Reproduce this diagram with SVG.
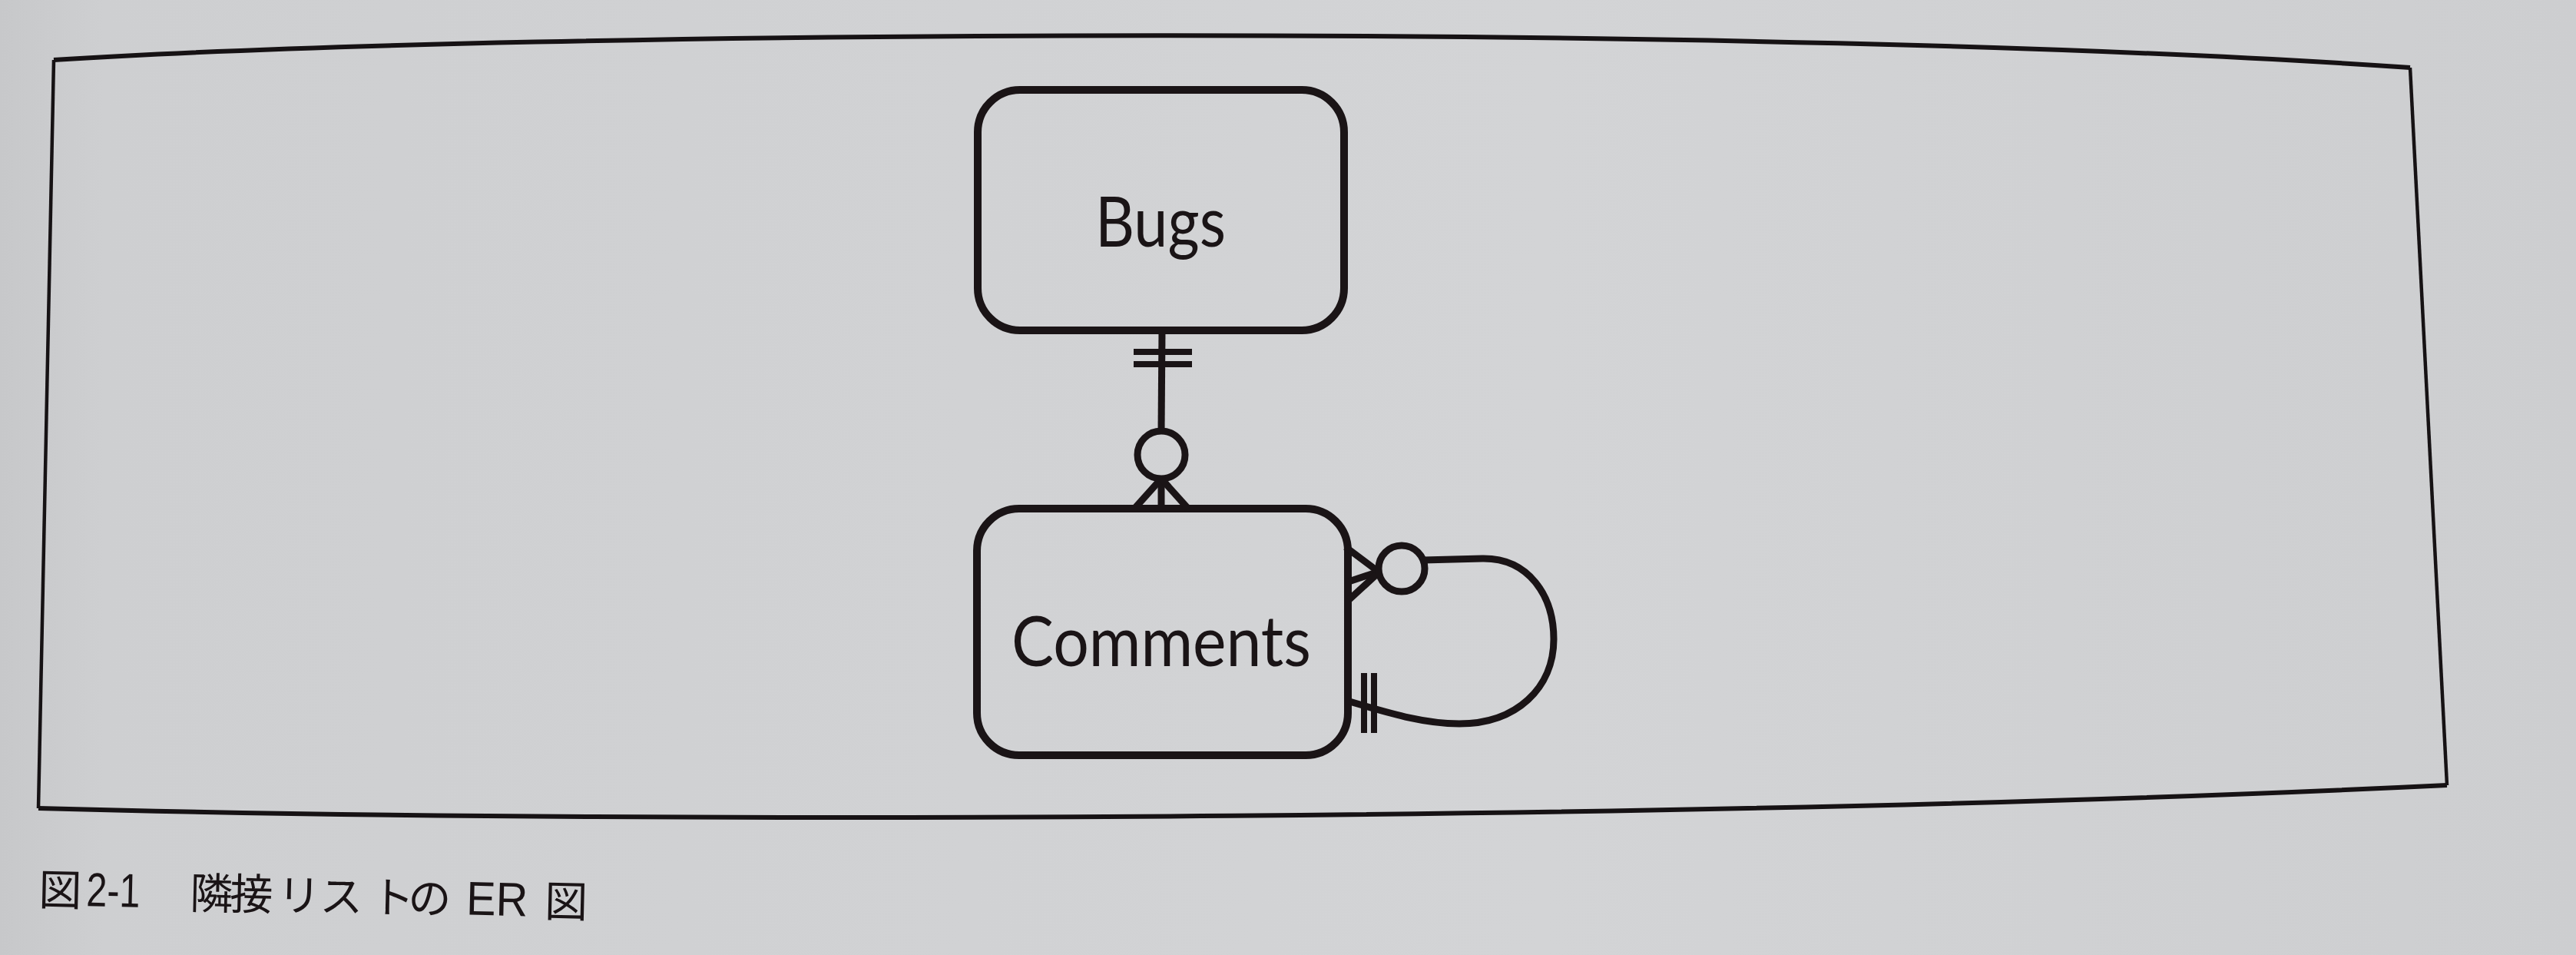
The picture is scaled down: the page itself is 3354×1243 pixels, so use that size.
<svg xmlns="http://www.w3.org/2000/svg" width="3354" height="1243" viewBox="0 0 3354 1243">
  <defs>
    <linearGradient id="paper" x1="0" y1="0" x2="1" y2="0">
      <stop offset="0" stop-color="#c7c8ca"/>
      <stop offset="0.04" stop-color="#cecfd1"/>
      <stop offset="0.6" stop-color="#d3d4d6"/>
      <stop offset="1" stop-color="#cdced0"/>
    </linearGradient>
    <style>
      .frame { fill: none; stroke: #161214; stroke-linejoin: miter; }
      .entity { fill: none; stroke: #1a1416; stroke-width: 10; }
      .label { font-family: Lato, "Liberation Sans", sans-serif; font-size: 92px; fill: #1a1416; text-anchor: middle; }
      .rel { fill: none; stroke: #1a1416; stroke-width: 9; stroke-linecap: butt; }
      .bar { fill: none; stroke: #1a1416; stroke-width: 8; }
      .caption { font-family: "Liberation Sans", "Noto Sans CJK JP", sans-serif; fill: #1a1416; }
      .cj { font-family: "Noto Sans CJK JP", sans-serif; font-size: 56px; }
      .lat { font-size: 62px; }
    </style>
  </defs>

  <!-- page -->
  <rect width="3354" height="1243" fill="url(#paper)"/>

  <!-- figure frame (slightly bowed by the page) -->
  <g id="frame">
    <path class="frame" stroke-width="6" d="M70 78 C700 38 2300 30 3138 88"/>
    <path class="frame" stroke-width="6" d="M50 1052 C900 1075 2300 1065 3186 1022"/>
    <path class="frame" stroke-width="4.5" d="M70 78 L50 1052"/>
    <path class="frame" stroke-width="4.5" d="M3138 88 L3186 1022"/>
  </g>

  <!-- entities -->
  <g id="bugs">
    <rect class="entity" x="1273" y="117" width="477" height="313" rx="55" ry="55"/>
    <text class="label" x="1511" y="321" textLength="170" lengthAdjust="spacingAndGlyphs">Bugs</text>
  </g>
  <g id="comments">
    <rect class="entity" x="1272" y="662" width="483" height="321" rx="55" ry="55"/>
    <text class="label" x="1512" y="867" textLength="390" lengthAdjust="spacingAndGlyphs">Comments</text>
  </g>

  <!-- relationships -->
  <g id="connectors">
    <!-- Bugs (exactly one) to Comments (zero or many) -->
    <g id="bugs-comments">
      <line class="rel" x1="1513" y1="430" x2="1512" y2="561"/>
      <line class="bar" x1="1476" y1="458" x2="1552" y2="458"/>
      <line class="bar" x1="1476" y1="474" x2="1552" y2="474"/>
      <circle class="rel" cx="1512" cy="592" r="31" stroke-width="9.5"/>
      <line class="rel" x1="1512" y1="623" x2="1477" y2="662"/>
      <line class="rel" x1="1512" y1="623" x2="1512" y2="662"/>
      <line class="rel" x1="1512" y1="623" x2="1547" y2="662"/>
    </g>
    <!-- Comments self reference (parent / child) -->
    <g id="comments-self">
      <line class="rel" x1="1792" y1="742" x2="1752" y2="712"/>
      <line class="rel" x1="1792" y1="745" x2="1756" y2="757"/>
      <line class="rel" x1="1792" y1="748" x2="1756" y2="781"/>
      <circle class="rel" cx="1825" cy="740" r="30" stroke-width="9.5"/>
      <path class="rel" d="M1853 729 L1930 727 C1990 726 2023 775 2023 832 C2023 895 1975 942 1900 942 C1855 942 1815 930 1757 913"/>
      <line class="bar" x1="1776" y1="876" x2="1776" y2="954"/>
      <line class="bar" x1="1789" y1="876" x2="1789" y2="954"/>
    </g>
  </g>

  <!-- caption -->
  <g id="caption" class="caption" transform="rotate(1.3 53 1178)">
    <text class="cj" x="50" y="1178">図</text>
    <text class="lat" x="112" y="1178" textLength="70" lengthAdjust="spacingAndGlyphs">2-1</text>
    <text class="cj" y="1178"><tspan x="247">隣</tspan><tspan x="299">接</tspan><tspan x="361">リ</tspan><tspan x="416">ス</tspan><tspan x="483">ト</tspan><tspan x="531">の</tspan></text>
    <text class="lat" x="607" y="1178" textLength="80" lengthAdjust="spacingAndGlyphs">ER</text>
    <text class="cj" x="709" y="1178">図</text>
  </g>
</svg>
